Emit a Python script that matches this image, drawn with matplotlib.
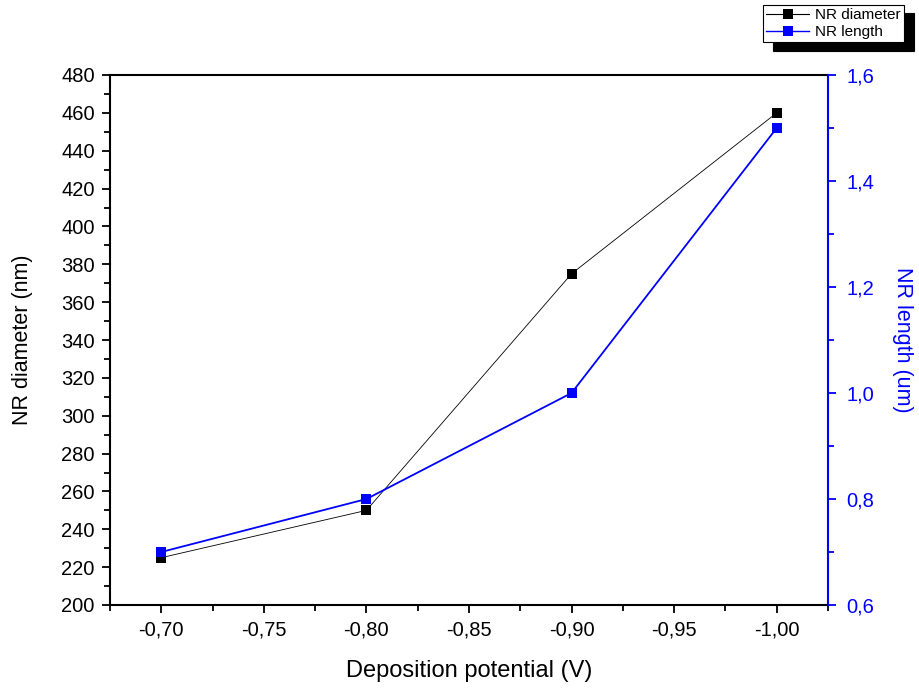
"""NR diameter and NR length versus deposition potential (double y axis)."""
import matplotlib
matplotlib.use("Agg")
import matplotlib.pyplot as plt
from matplotlib.ticker import MultipleLocator, FuncFormatter
from matplotlib.lines import Line2D

plt.rcParams["font.family"] = ["Liberation Sans", "DejaVu Sans"]

potential = [-0.70, -0.80, -0.90, -1.00]
diameter_nm = [225, 250, 375, 460]
length_um = [0.70, 0.80, 1.00, 1.50]

BLUE = "#0000ff"


def comma(fmt):
    return FuncFormatter(lambda v, _: format(v, fmt).replace(".", ","))


fig = plt.figure(figsize=(9.19, 6.94), dpi=100)
ax = fig.add_axes([110 / 919, 1 - 605 / 694, 718 / 919, 530 / 694])
ax2 = ax.twinx()

ax.plot(potential, diameter_nm, color="black", linewidth=0.6,
        marker="s", markersize=7.5, markeredgewidth=0)
ax2.plot(potential, length_um, color=BLUE, linewidth=1.3,
         marker="s", markersize=7.5, markeredgewidth=0)

ax.set_xlim(-0.675, -1.025)
ax.set_ylim(200, 480)
ax2.set_ylim(0.6, 1.6)

ax.xaxis.set_major_locator(MultipleLocator(0.05))
ax.xaxis.set_minor_locator(MultipleLocator(0.025))
ax.xaxis.set_major_formatter(comma(".2f"))
ax.yaxis.set_major_locator(MultipleLocator(20))
ax.yaxis.set_minor_locator(MultipleLocator(10))
ax2.yaxis.set_major_locator(MultipleLocator(0.2))
ax2.yaxis.set_minor_locator(MultipleLocator(0.1))
ax2.yaxis.set_major_formatter(comma(".1f"))

ax.tick_params(axis="both", which="major", direction="out", length=6,
               width=1.3, labelsize=14.5, pad=5)
ax.tick_params(axis="both", which="minor", direction="out", length=4,
               width=1.3)

# inward major ticks along the top edge, drawn by the twin's x axis
ax2.tick_params(axis="x", which="major", top=True, bottom=False,
                labeltop=False, labelbottom=False, direction="in",
                length=6, width=1.3)
ax2.tick_params(axis="x", which="minor", top=False, bottom=False)

ax2.tick_params(axis="y", which="major", direction="out", length=6,
                width=1.3, colors=BLUE, labelsize=14.5, pad=7)
ax2.tick_params(axis="y", which="minor", direction="out", length=4,
                width=1.3, colors=BLUE)

for s in ("left", "bottom", "top"):
    ax.spines[s].set_linewidth(1.5)
ax.spines["right"].set_visible(False)
ax2.spines["right"].set_color(BLUE)
ax2.spines["right"].set_linewidth(1.5)
for s in ("left", "bottom", "top"):
    ax2.spines[s].set_visible(False)

ax.set_xlabel("Deposition potential (V)", fontsize=17, labelpad=15)
ax.set_ylabel("NR diameter (nm)", fontsize=15.5, labelpad=20)
ax2.set_ylabel("NR length (um)", fontsize=15.5, color=BLUE,
               rotation=270, labelpad=28)

handles = [
    Line2D([], [], color="black", linewidth=0.8, marker="s",
           markersize=7, markeredgewidth=0),
    Line2D([], [], color=BLUE, linewidth=1.0, marker="s",
           markersize=7, markeredgewidth=0),
]
leg = fig.legend(handles, ["NR diameter", "NR length"],
                 loc="upper right", bbox_to_anchor=(904 / 919, 1 - 5 / 694),
                 fontsize=11, frameon=True, fancybox=False,
                 shadow={"color": "black", "alpha": 1, "ox": 7, "oy": -6},
                 borderpad=0.2, labelspacing=0.2, handlelength=2.8,
                 handletextpad=0.4, borderaxespad=0)
leg.get_frame().set_edgecolor("black")
leg.get_frame().set_linewidth(0.8)

fig.savefig("out.png", dpi=100)
